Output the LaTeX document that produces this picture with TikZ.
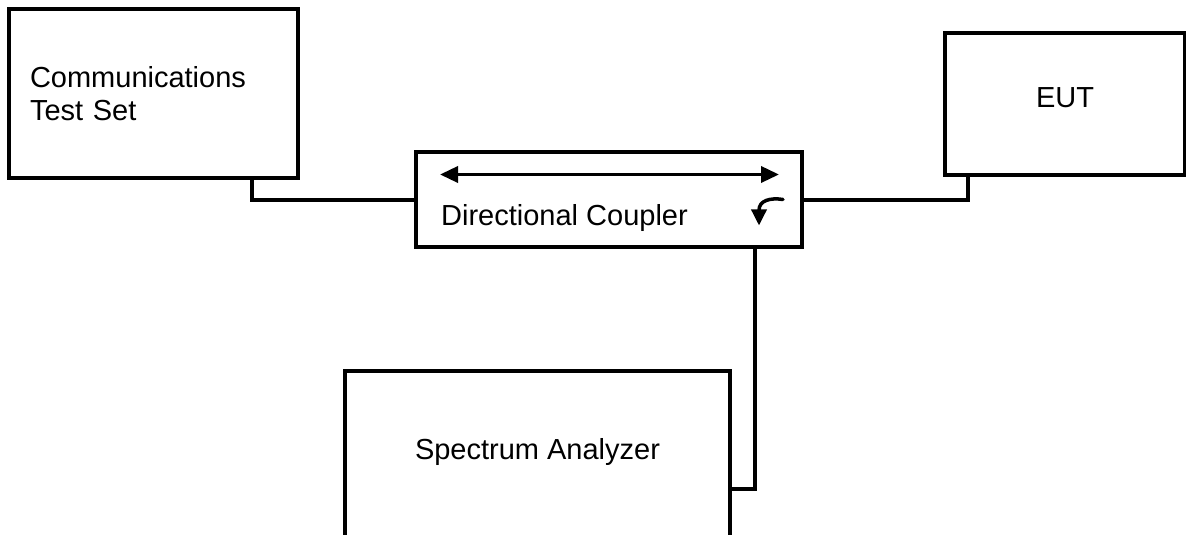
\documentclass[tikz,border=0pt]{standalone}
\usepackage{fontspec}
\setmainfont{Liberation Sans}
\usetikzlibrary{arrows.meta}
\tikzset{
  box/.style={draw, line width=4pt, rectangle, inner sep=0pt},
  wire/.style={line width=3.5pt},
  dirarrow/.style={line width=3.5pt, {Triangle[length=18pt,width=16pt]}-{Triangle[length=18pt,width=16pt]}},
  curlarrow/.style={line width=3.5pt, line cap=round, -{Triangle[length=16pt,width=15pt]}}
}
\begin{document}
\begin{tikzpicture}[x=1pt, y=1pt, font=\fontsize{29}{33}\selectfont, line join=miter]
	%%%%%%%%%%%%%%%%%%%%%%%%%%%%%%%%%
	\useasboundingbox (0,0) rectangle (1186,535);
	\clip (0,0) rectangle (1186,535);
	%%%%%%%%%%%%%%%%%%%%%%%%%%%%%%%%%
	\node[box, minimum width=289pt, minimum height=169pt, text width=247pt, align=left] (cts) at (153.5,441) {Communications\\Test Set};
	\node[box, minimum width=240pt, minimum height=142pt, text depth=13pt] (eut) at (1065,431) {EUT};
	\node[box, minimum width=386pt, minimum height=95pt] (dc) at (609,335) {};
	\node[box, minimum width=385pt, minimum height=236pt, anchor=north] (sa) at (537.5,166) {};
	%%%%%%%%%%%%%%%%%%%%%%%%%%%%%%%%%
	\node[anchor=base west, inner sep=0pt] (dctext) at ([xshift=27pt, yshift=-75pt]dc.north west) {Directional Coupler};
	\node[anchor=base, inner sep=0pt] (satext) at ([yshift=-91pt]sa.north) {Spectrum Analyzer};
	%%%%%%%%%%%%%%%%%%%%%%%%%%%%%%%%%
	\draw[wire] ([xshift=-48pt]cts.south east) |- (dc.west);
	\draw[wire] ([xshift=25pt]eut.south west) |- (dc.east);
	\draw[wire] ([xshift=-49pt]dc.south east) |- (sa.east);
	%%%%%%%%%%%%%%%%%%%%%%%%%%%%%%%%%
	\draw[dirarrow] ([xshift=26pt, yshift=-24pt]dc.north west) -- ([xshift=-25pt, yshift=-24pt]dc.north east);
	\draw[curlarrow] ([shift={(-21pt,-49pt)}]dc.north east) .. controls ([shift={(-34pt,-47pt)}]dc.north east) and ([shift={(-45pt,-50pt)}]dc.north east) .. ([shift={(-45pt,-75pt)}]dc.north east);
	%%%%%%%%%%%%%%%%%%%%%%%%%%%%%%%%%
\end{tikzpicture}
\end{document}
